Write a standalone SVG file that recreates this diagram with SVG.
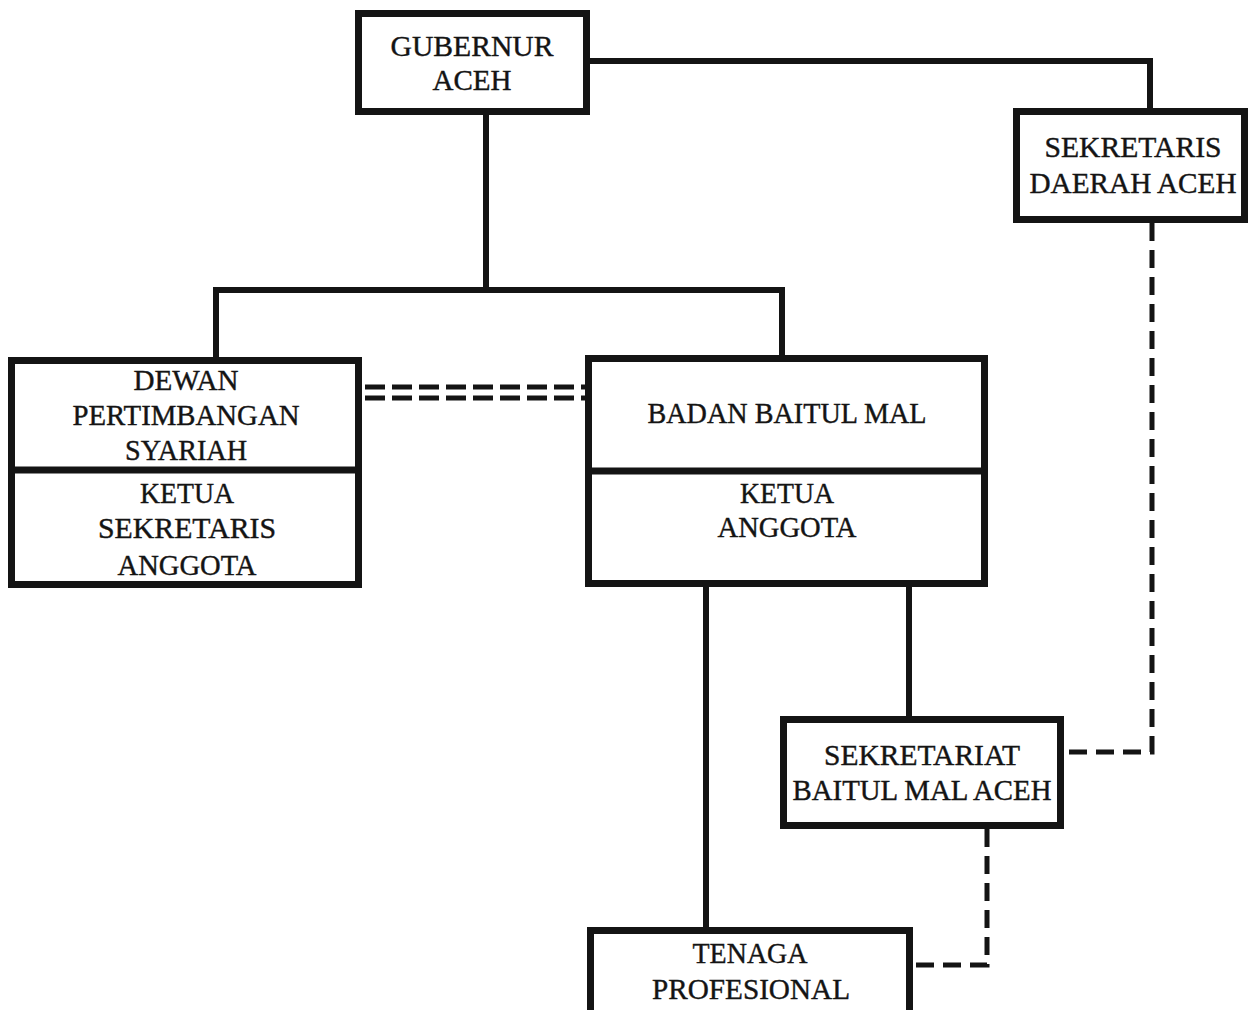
<svg xmlns="http://www.w3.org/2000/svg" width="1248" height="1010" viewBox="0 0 1248 1010">
<style>
.box{fill:#ffffff;stroke:#141414;stroke-width:7}
.div{stroke:#141414;stroke-width:7}
.t{font-family:"Liberation Serif","Times New Roman",serif;font-size:30px;fill:#141414;stroke:#141414;stroke-width:0.4;text-anchor:middle}
.solid{fill:none;stroke:#141414;stroke-width:6}
.dash{fill:none;stroke:#141414;stroke-width:5}
.vd{stroke-dasharray:18 9}
.ddash{fill:none;stroke:#141414;stroke-width:5;stroke-dasharray:20 7}
</style>
<rect width="1248" height="1010" fill="#ffffff"/>
<g id="connectors">
<polyline class="solid" points="486,115 486,290"/>
<polyline class="solid" points="216,357 216,290 782,290 782,355"/>
<polyline class="solid" points="590,61 1150,61 1150,108"/>
<line class="solid" x1="706" y1="587" x2="706" y2="927"/>
<line class="solid" x1="909" y1="587" x2="909" y2="716"/>
<polyline class="dash vd" points="1152,223 1152,752 1064,752"/>
<polyline class="dash vd" points="987,829 987,965 913,965"/>
<line class="ddash" x1="365" y1="387" x2="585" y2="387"/>
<line class="ddash" x1="365" y1="398" x2="585" y2="398"/>
</g>
<g id="gubernur">
<rect class="box" x="358.5" y="13.5" width="228" height="98"/>
<text class="t" x="472" y="56" textLength="163" lengthAdjust="spacingAndGlyphs">GUBERNUR</text>
<text class="t" x="472" y="90" textLength="79" lengthAdjust="spacingAndGlyphs">ACEH</text>
</g>
<g id="sekda">
<rect class="box" x="1016.5" y="111.5" width="228" height="108"/>
<text class="t" x="1133" y="157" textLength="177" lengthAdjust="spacingAndGlyphs">SEKRETARIS</text>
<text class="t" x="1133" y="193" textLength="207" lengthAdjust="spacingAndGlyphs">DAERAH ACEH</text>
</g>
<g id="dewan">
<rect class="box" x="11.5" y="360.5" width="347" height="224"/>
<line class="div" x1="11.5" y1="470" x2="358.5" y2="470"/>
<text class="t" x="186" y="390" textLength="105" lengthAdjust="spacingAndGlyphs">DEWAN</text>
<text class="t" x="186" y="425" textLength="227" lengthAdjust="spacingAndGlyphs">PERTIMBANGAN</text>
<text class="t" x="186" y="460" textLength="122" lengthAdjust="spacingAndGlyphs">SYARIAH</text>
<text class="t" x="187" y="503" textLength="94" lengthAdjust="spacingAndGlyphs">KETUA</text>
<text class="t" x="187" y="538" textLength="178" lengthAdjust="spacingAndGlyphs">SEKRETARIS</text>
<text class="t" x="187" y="575" textLength="139" lengthAdjust="spacingAndGlyphs">ANGGOTA</text>
</g>
<g id="badan">
<rect class="box" x="588.5" y="358.5" width="396" height="225"/>
<line class="div" x1="588.5" y1="471" x2="984.5" y2="471"/>
<text class="t" x="787" y="423" textLength="279" lengthAdjust="spacingAndGlyphs">BADAN BAITUL MAL</text>
<text class="t" x="787" y="503" textLength="94" lengthAdjust="spacingAndGlyphs">KETUA</text>
<text class="t" x="787" y="537" textLength="139" lengthAdjust="spacingAndGlyphs">ANGGOTA</text>
</g>
<g id="sekretariat">
<rect class="box" x="783.5" y="719.5" width="277" height="106"/>
<text class="t" x="922" y="765" textLength="196" lengthAdjust="spacingAndGlyphs">SEKRETARIAT</text>
<text class="t" x="922" y="800" textLength="259" lengthAdjust="spacingAndGlyphs">BAITUL MAL ACEH</text>
</g>
<g id="tenaga">
<rect class="box" x="590.5" y="930.5" width="319" height="95"/>
<text class="t" x="750" y="963" textLength="115" lengthAdjust="spacingAndGlyphs">TENAGA</text>
<text class="t" x="751" y="999" textLength="198" lengthAdjust="spacingAndGlyphs">PROFESIONAL</text>
</g>
</svg>
